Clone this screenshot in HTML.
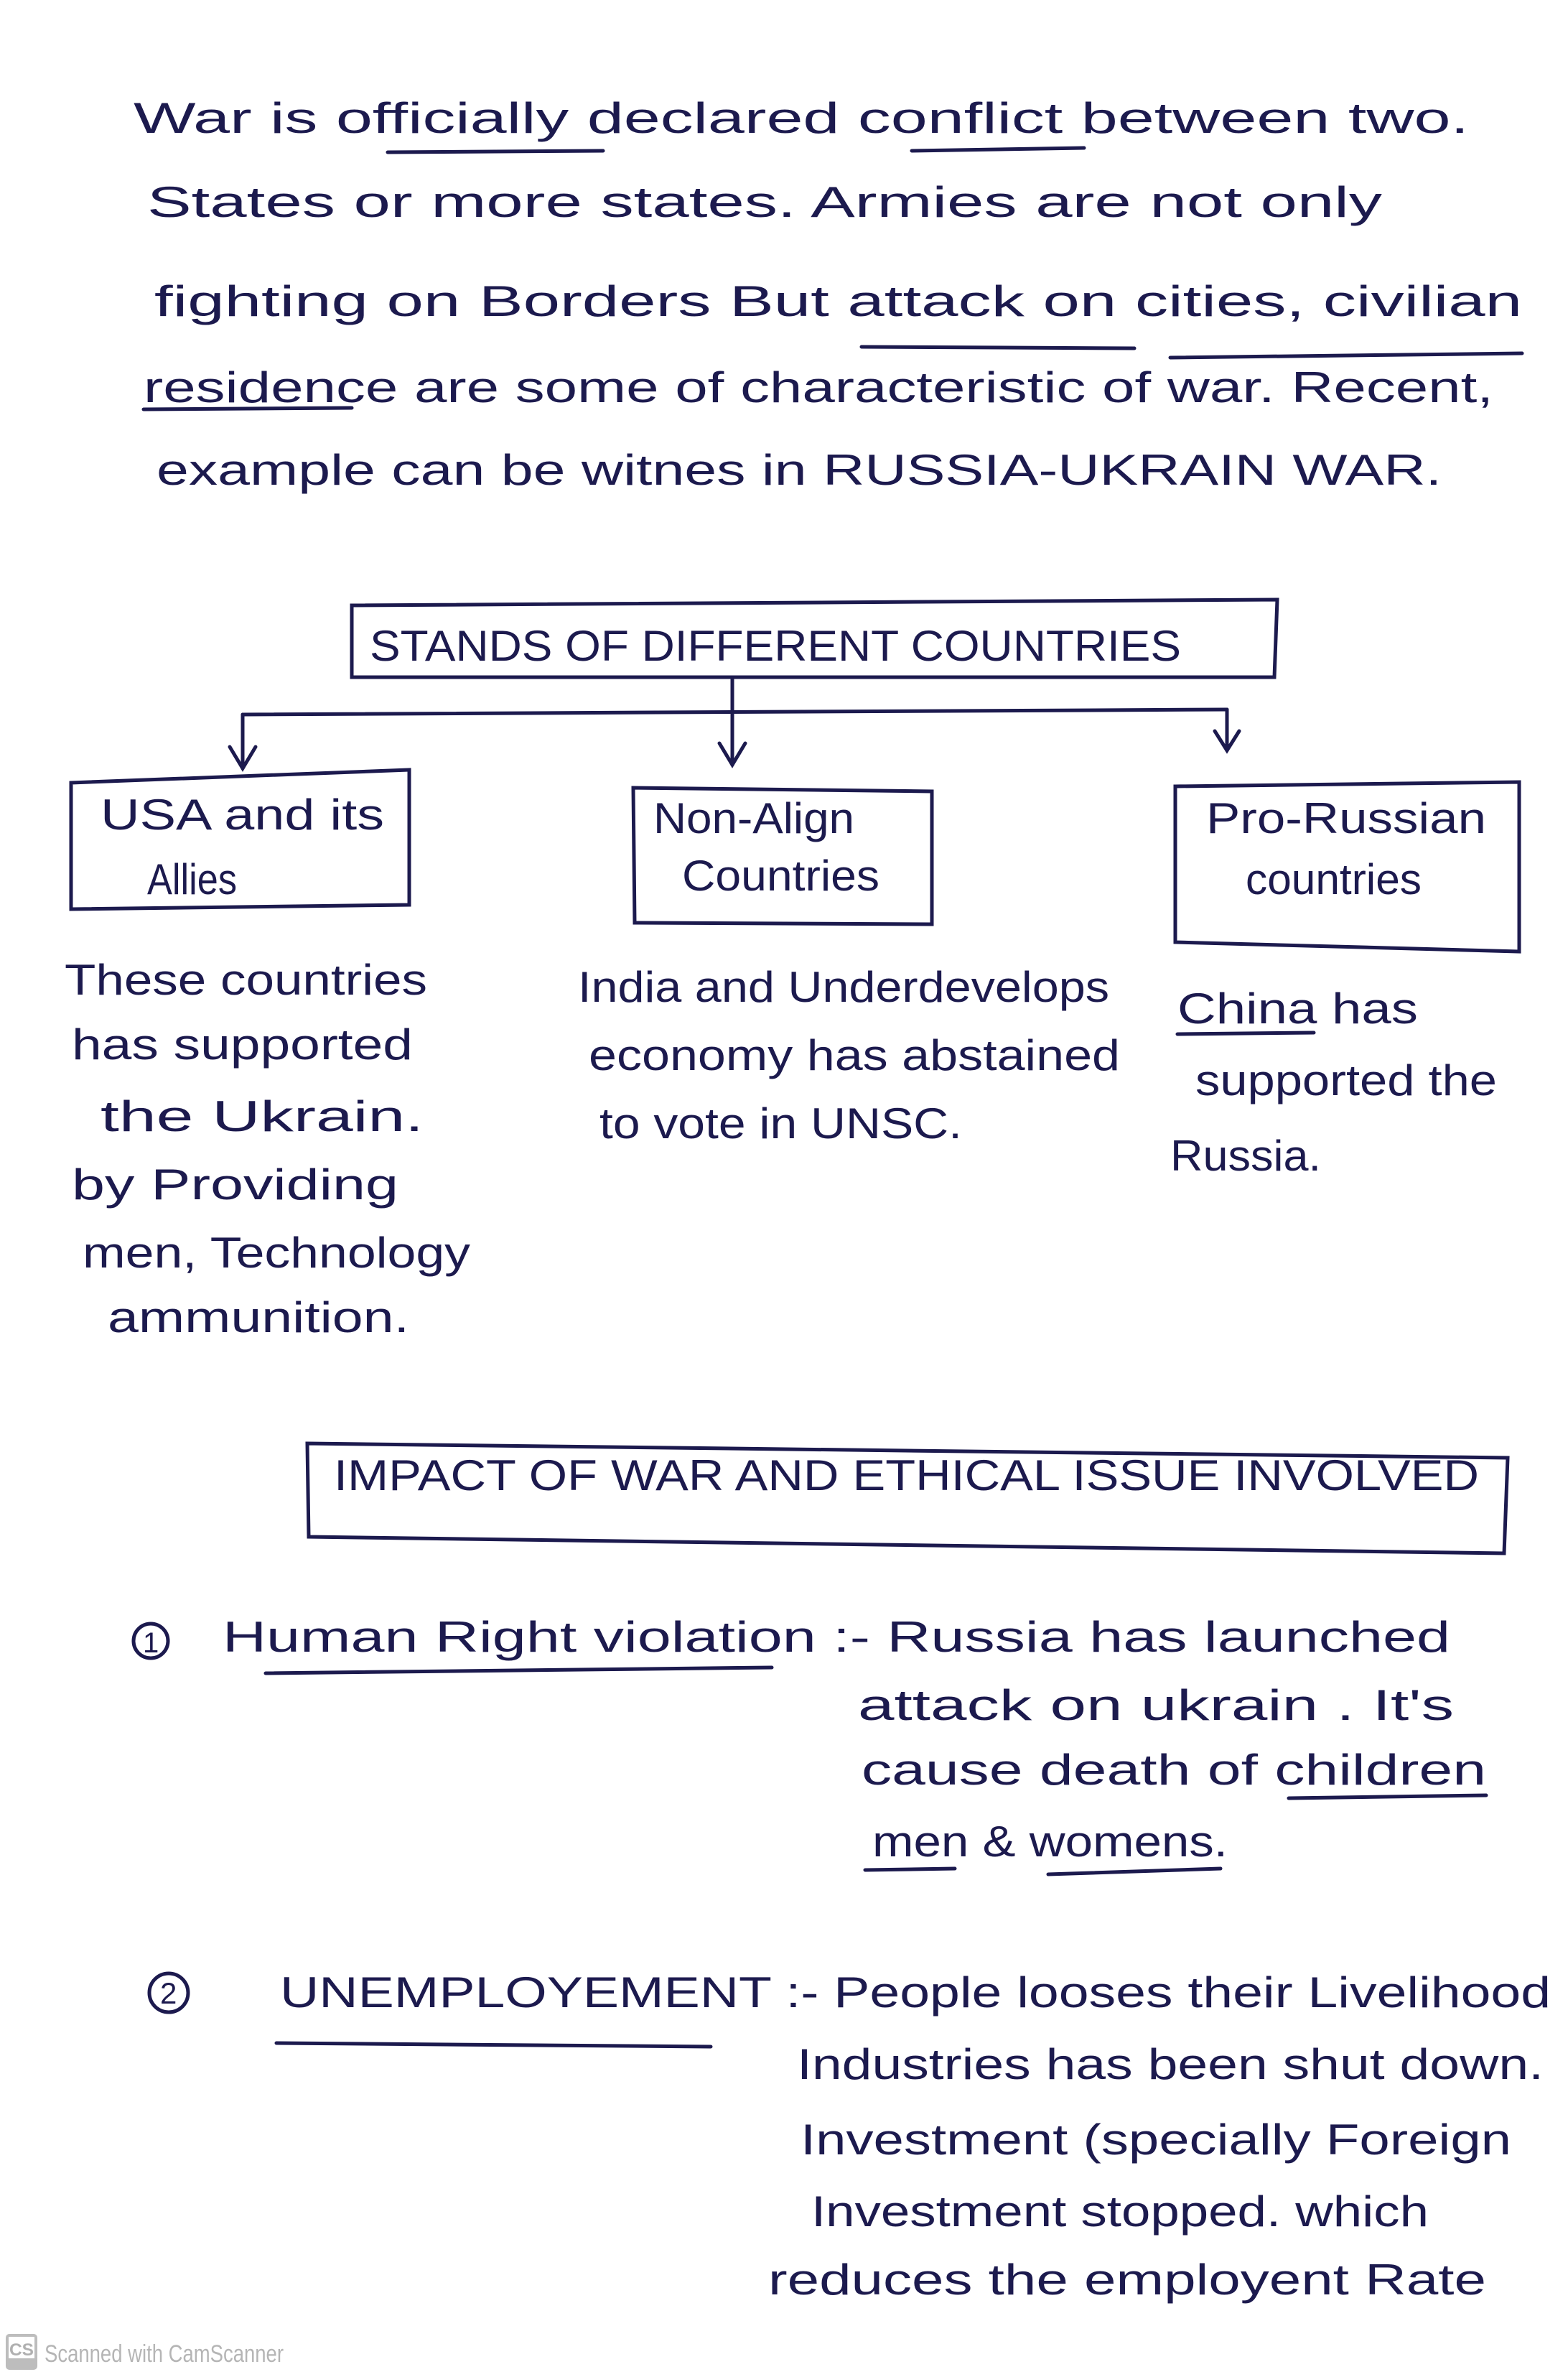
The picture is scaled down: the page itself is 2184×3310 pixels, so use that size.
<!DOCTYPE html>
<html><head><meta charset="utf-8"><style>
html,body{margin:0;padding:0;background:#fff;}
svg{display:block}
text{font-family:"Liberation Sans",sans-serif;fill:#1c1a4e;font-size:60px;}
</style></head><body>
<svg width="2184" height="3310" viewBox="0 0 2184 3310" xmlns="http://www.w3.org/2000/svg">
<rect width="2184" height="3310" fill="#fff"/>
<g stroke="#1c1a4e" stroke-width="5" fill="none" stroke-linecap="round">
<line x1="540" y1="212" x2="840" y2="210"/>
<line x1="1270" y1="210" x2="1510" y2="206"/>
<line x1="1200" y1="483" x2="1580" y2="485"/>
<line x1="1630" y1="498" x2="2120" y2="492"/>
<line x1="200" y1="570" x2="490" y2="568"/>
<polygon points="490,843 1779,835 1775,943 490,943"/>
<line x1="1020" y1="943" x2="1020" y2="990"/>
<line x1="338" y1="995" x2="1709" y2="988"/>
<line x1="338" y1="995" x2="338" y2="1070"/><polyline points="320,1040 338,1070 356,1040"/>
<line x1="1020" y1="990" x2="1020" y2="1065"/><polyline points="1002,1035 1020,1065 1038,1035"/>
<line x1="1709" y1="988" x2="1709" y2="1045"/><polyline points="1692,1018 1709,1045 1726,1018"/>
<polygon points="99,1090 570,1072 570,1260 99,1266"/>
<polygon points="882,1097 1298,1102 1298,1287 884,1285"/>
<polygon points="1637,1095 2116,1089 2116,1325 1637,1312"/>
<line x1="1640" y1="1440" x2="1830" y2="1438"/>
<polygon points="428,2010 2100,2030 2095,2163 430,2140"/>
<circle cx="210" cy="2285" r="24"/>
<line x1="370" y1="2330" x2="1075" y2="2322"/>
<line x1="1795" y1="2504" x2="2070" y2="2500"/>
<line x1="1205" y1="2604" x2="1330" y2="2602"/>
<line x1="1460" y1="2610" x2="1700" y2="2602"/>
<circle cx="235" cy="2775" r="27"/>
<line x1="385" y1="2845" x2="990" y2="2850"/>
</g>
<text x="199" y="2301" style="font-size:40px">1</text>
<text x="223" y="2790" style="font-size:42px">2</text>
<text x="186" y="185" textLength="1860" lengthAdjust="spacingAndGlyphs">War  is  officially  declared  conflict  between  two.</text>
<text x="205" y="302" textLength="1720" lengthAdjust="spacingAndGlyphs">States  or  more  states.  Armies  are  not  only</text>
<text x="215" y="440" textLength="1905" lengthAdjust="spacingAndGlyphs">fighting  on  Borders  But  attack  on  cities,  civilian</text>
<text x="200" y="560" textLength="1880" lengthAdjust="spacingAndGlyphs">residence  are  some  of  characteristic  of  war. Recent,</text>
<text x="218" y="675" textLength="1790" lengthAdjust="spacingAndGlyphs">example  can  be  witnes  in  RUSSIA-UKRAIN WAR.</text>
<text x="515" y="920" textLength="1130" lengthAdjust="spacingAndGlyphs">STANDS  OF  DIFFERENT  COUNTRIES</text>
<text x="140" y="1155" textLength="395" lengthAdjust="spacingAndGlyphs">USA and its</text>
<text x="205" y="1245" textLength="125" lengthAdjust="spacingAndGlyphs">Allies</text>
<text x="910" y="1160" textLength="280" lengthAdjust="spacingAndGlyphs">Non-Align</text>
<text x="950" y="1240" textLength="275" lengthAdjust="spacingAndGlyphs">Countries</text>
<text x="1680" y="1160" textLength="390" lengthAdjust="spacingAndGlyphs">Pro-Russian</text>
<text x="1735" y="1245" textLength="245" lengthAdjust="spacingAndGlyphs">countries</text>
<text x="90" y="1385" textLength="505" lengthAdjust="spacingAndGlyphs">These countries</text>
<text x="100" y="1475" textLength="475" lengthAdjust="spacingAndGlyphs">has supported</text>
<text x="140" y="1575" textLength="450" lengthAdjust="spacingAndGlyphs">the Ukrain.</text>
<text x="100" y="1670" textLength="455" lengthAdjust="spacingAndGlyphs">by Providing</text>
<text x="115" y="1765" textLength="540" lengthAdjust="spacingAndGlyphs">men, Technology</text>
<text x="150" y="1855" textLength="420" lengthAdjust="spacingAndGlyphs">ammunition.</text>
<text x="805" y="1395" textLength="740" lengthAdjust="spacingAndGlyphs">India and Underdevelops</text>
<text x="820" y="1490" textLength="740" lengthAdjust="spacingAndGlyphs">economy has abstained</text>
<text x="835" y="1585" textLength="505" lengthAdjust="spacingAndGlyphs">to vote in UNSC.</text>
<text x="1640" y="1425" textLength="335" lengthAdjust="spacingAndGlyphs">China has</text>
<text x="1665" y="1525" textLength="420" lengthAdjust="spacingAndGlyphs">supported the</text>
<text x="1630" y="1630" textLength="210" lengthAdjust="spacingAndGlyphs">Russia.</text>
<text x="465" y="2075" textLength="1595" lengthAdjust="spacingAndGlyphs">IMPACT  OF  WAR  AND  ETHICAL  ISSUE  INVOLVED</text>
<text x="310" y="2300" textLength="1710" lengthAdjust="spacingAndGlyphs">Human Right violation :- Russia has launched</text>
<text x="1195" y="2395" textLength="830" lengthAdjust="spacingAndGlyphs">attack on ukrain . It's</text>
<text x="1200" y="2485" textLength="870" lengthAdjust="spacingAndGlyphs">cause death of children</text>
<text x="1215" y="2585" textLength="495" lengthAdjust="spacingAndGlyphs">men &amp; womens.</text>
<text x="390" y="2795" textLength="1770" lengthAdjust="spacingAndGlyphs">UNEMPLOYEMENT :- People looses their Livelihood</text>
<text x="1110" y="2895" textLength="1040" lengthAdjust="spacingAndGlyphs">Industries has been shut down.</text>
<text x="1115" y="3000" textLength="990" lengthAdjust="spacingAndGlyphs">Investment (specially Foreign</text>
<text x="1130" y="3100" textLength="860" lengthAdjust="spacingAndGlyphs">Investment stopped. which</text>
<text x="1070" y="3195" textLength="1000" lengthAdjust="spacingAndGlyphs">reduces the employent Rate</text>
<rect x="8" y="3250" width="44" height="50" rx="5" fill="#bdbdbd"/>
<rect x="12" y="3254" width="36" height="30" fill="#fff"/>
<text x="13" y="3280" style="font-size:24px;fill:#b0b0b0;font-weight:bold" textLength="34" lengthAdjust="spacingAndGlyphs">CS</text>
<text x="62" y="3289" style="font-size:34px;fill:#b5b5b5" textLength="333" lengthAdjust="spacingAndGlyphs">Scanned with CamScanner</text>
</svg>
</body></html>
